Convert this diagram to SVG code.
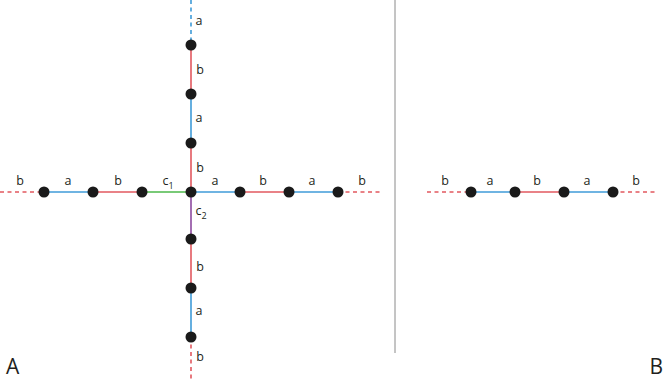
<svg xmlns="http://www.w3.org/2000/svg" width="664" height="381" viewBox="0 0 664 381">
<style>
.e{stroke-width:1.6;fill:none}
.bl{stroke:#3f9bd8}
.rd{stroke:#e2585f}
.gr{stroke:#4db84a}
.pu{stroke:#8d4a9f}
.d{stroke-dasharray:4 3.5}
.n{fill:#1a1a1a}
.t{font-family:"Open Sans","Liberation Sans",sans-serif;font-size:12.5px;fill:#231f20;text-anchor:middle}
.s{font-size:9px}
.big{font-family:"Open Sans","Liberation Sans",sans-serif;font-size:21px;fill:#231f20}
</style>
<rect width="664" height="381" fill="#ffffff"/>
<g id="connectors">
<line class="e bl d" x1="191" y1="0" x2="191" y2="45"/>
<line class="e rd" x1="191" y1="45" x2="191" y2="94"/>
<line class="e bl" x1="191" y1="94" x2="191" y2="143"/>
<line class="e rd" x1="191" y1="143" x2="191" y2="192"/>
<line class="e pu" x1="191" y1="192" x2="191" y2="239"/>
<line class="e rd" x1="191" y1="239" x2="191" y2="288"/>
<line class="e bl" x1="191" y1="288" x2="191" y2="337"/>
<line class="e rd d" x1="191" y1="337" x2="191" y2="381"/>
<line class="e rd d" x1="0" y1="192" x2="44" y2="192"/>
<line class="e bl" x1="44" y1="192" x2="93" y2="192"/>
<line class="e rd" x1="93" y1="192" x2="142" y2="192"/>
<line class="e gr" x1="142" y1="192" x2="191" y2="192"/>
<line class="e bl" x1="191" y1="192" x2="240" y2="192"/>
<line class="e rd" x1="240" y1="192" x2="289" y2="192"/>
<line class="e bl" x1="289" y1="192" x2="338" y2="192"/>
<line class="e rd d" x1="338" y1="192" x2="382" y2="192"/>
<line class="e rd d" x1="427" y1="192" x2="471" y2="192"/>
<line class="e bl" x1="471" y1="192" x2="515" y2="192"/>
<line class="e rd" x1="515" y1="192" x2="564" y2="192"/>
<line class="e bl" x1="564" y1="192" x2="613" y2="192"/>
<line class="e rd d" x1="613" y1="192" x2="657" y2="192"/>
</g>
<line x1="395" y1="0" x2="395" y2="353" stroke="#8a8a8a" stroke-width="1"/>
<g id="nodes">
<g id="n-v1"><circle class="n" cx="191" cy="45" r="5.5"/></g>
<g id="n-v2"><circle class="n" cx="191" cy="94" r="5.5"/></g>
<g id="n-v3"><circle class="n" cx="191" cy="143" r="5.5"/></g>
<g id="n-center"><circle class="n" cx="191" cy="192" r="5.5"/></g>
<g id="n-v5"><circle class="n" cx="191" cy="239" r="5.5"/></g>
<g id="n-v6"><circle class="n" cx="191" cy="288" r="5.5"/></g>
<g id="n-v7"><circle class="n" cx="191" cy="337" r="5.5"/></g>
<g id="n-h1"><circle class="n" cx="44" cy="192" r="5.5"/></g>
<g id="n-h2"><circle class="n" cx="93" cy="192" r="5.5"/></g>
<g id="n-h3"><circle class="n" cx="142" cy="192" r="5.5"/></g>
<g id="n-h5"><circle class="n" cx="240" cy="192" r="5.5"/></g>
<g id="n-h6"><circle class="n" cx="289" cy="192" r="5.5"/></g>
<g id="n-h7"><circle class="n" cx="338" cy="192" r="5.5"/></g>
<g id="n-r1"><circle class="n" cx="471" cy="192" r="5.5"/></g>
<g id="n-r2"><circle class="n" cx="515" cy="192" r="5.5"/></g>
<g id="n-r3"><circle class="n" cx="564" cy="192" r="5.5"/></g>
<g id="n-r4"><circle class="n" cx="613" cy="192" r="5.5"/></g>
</g>
<g id="labels">
<text class="t" x="199" y="25">a</text>
<text class="t" x="200" y="74">b</text>
<text class="t" x="199" y="122">a</text>
<text class="t" x="200" y="172">b</text>
<text class="t" x="201" y="215">c<tspan class="s" dy="4">2</tspan></text>
<text class="t" x="200" y="271">b</text>
<text class="t" x="199" y="315">a</text>
<text class="t" x="200" y="361">b</text>
<text class="t" x="20" y="185">b</text>
<text class="t" x="68" y="185">a</text>
<text class="t" x="118" y="185">b</text>
<text class="t" x="168" y="185">c<tspan class="s" dy="4">1</tspan></text>
<text class="t" x="215" y="185">a</text>
<text class="t" x="263" y="185">b</text>
<text class="t" x="312" y="185">a</text>
<text class="t" x="362" y="185">b</text>
<text class="t" x="445" y="185">b</text>
<text class="t" x="490" y="185">a</text>
<text class="t" x="537" y="185">b</text>
<text class="t" x="587" y="185">a</text>
<text class="t" x="636" y="185">b</text>
<text class="big" x="6" y="374">A</text>
<text class="big" x="663" y="374" text-anchor="end">B</text>
</g>
</svg>
